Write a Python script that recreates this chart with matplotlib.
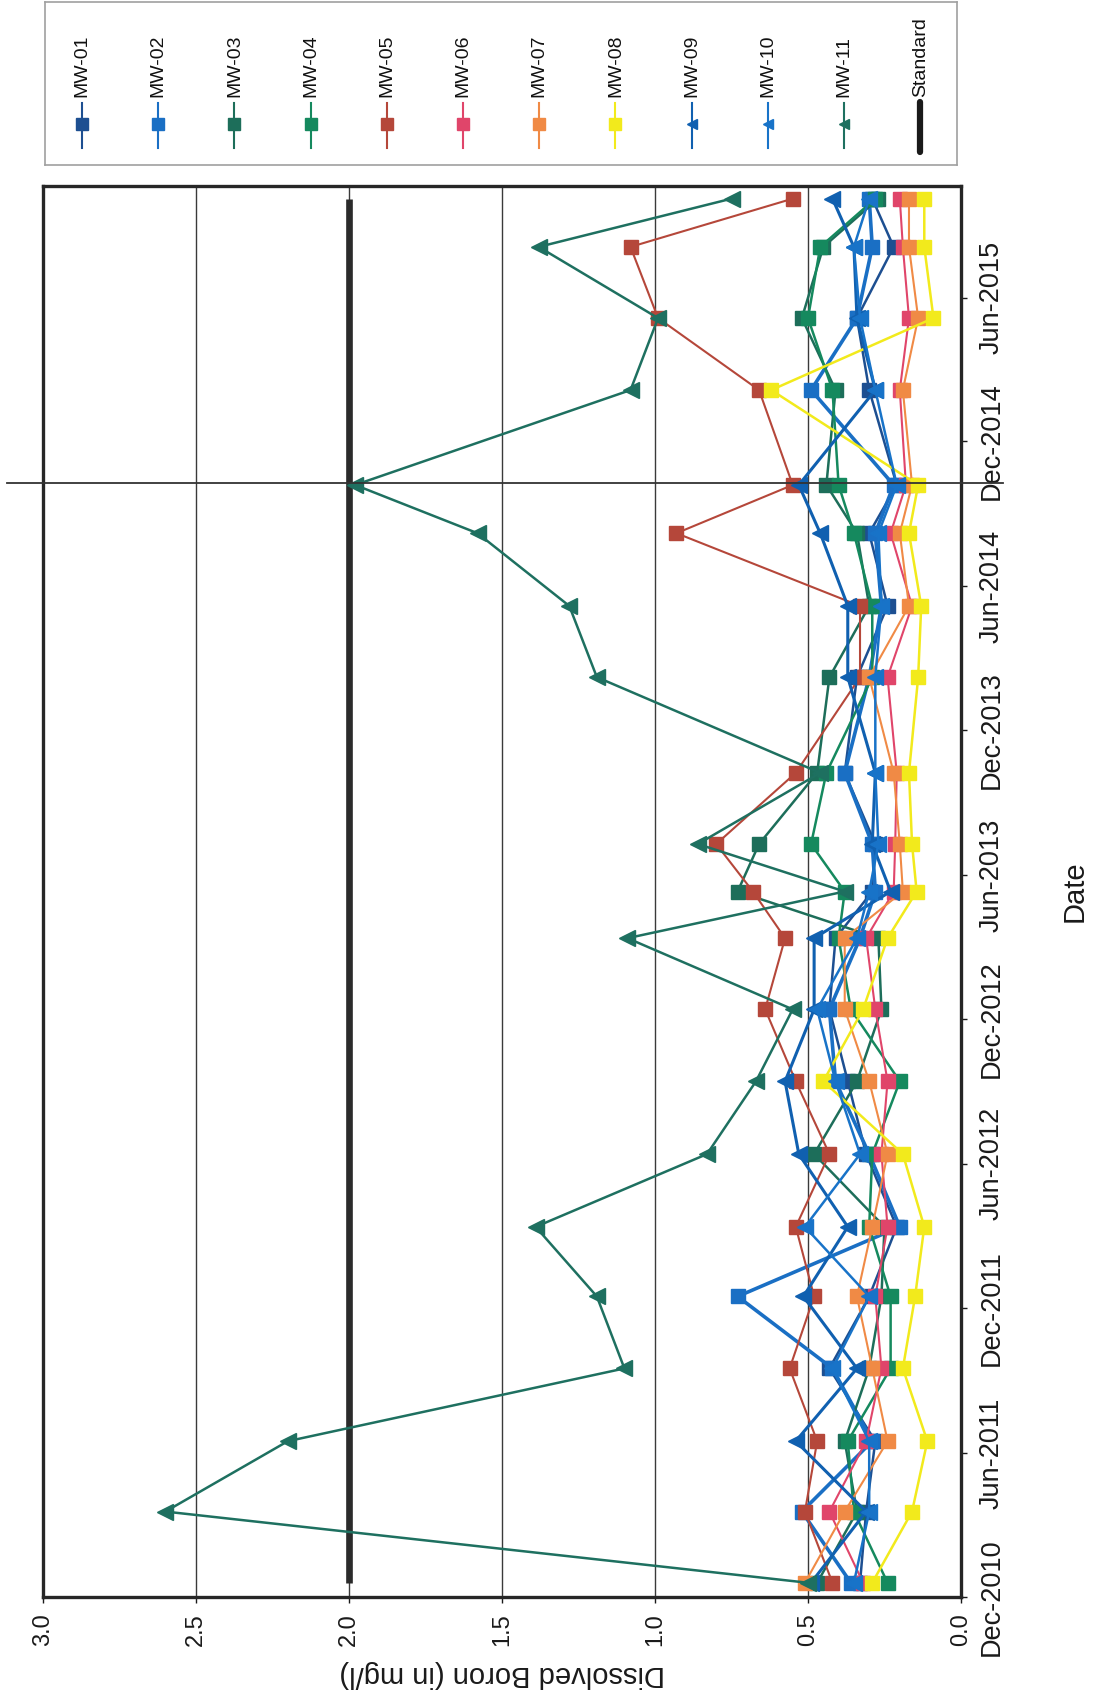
import matplotlib as mpl
import matplotlib.pyplot as plt
import matplotlib.transforms as mtransforms
import numpy as np

mpl.rcParams['font.family'] = ['Liberation Sans', 'DejaVu Sans']
NARROW = ['Liberation Sans Narrow', 'Liberation Sans', 'DejaVu Sans']

# sampling rounds (quarterly monitoring events)
sample_dates = np.array([
    '2010-12-19', '2011-03-19', '2011-06-16', '2011-09-16', '2011-12-16',
    '2012-03-13', '2012-06-13', '2012-09-13', '2012-12-13', '2013-03-13',
    '2013-05-11', '2013-07-10', '2013-10-08', '2014-02-06', '2014-05-07',
    '2014-08-07', '2014-10-07', '2015-02-04', '2015-05-06', '2015-08-04',
    '2015-10-04'], dtype='datetime64[D]')

wells = ['MW-01', 'MW-02', 'MW-03', 'MW-04', 'MW-05', 'MW-06',
         'MW-07', 'MW-08', 'MW-09', 'MW-10', 'MW-11']

# dissolved boron, mg/l
mw01 = [0.33, 0.31, 0.28, 0.43, 0.30, 0.21, 0.31, 0.37, 0.43, 0.41, 0.29,
        0.28, 0.38, 0.34, 0.24, 0.30, 0.21, 0.30, 0.34, 0.22, 0.29]
mw02 = [0.36, 0.52, 0.29, 0.42, 0.73, 0.20, 0.30, 0.41, 0.43, 0.33, 0.28,
        0.29, 0.38, 0.30, 0.26, 0.28, 0.22, 0.49, 0.34, 0.29, 0.30]
mw03 = [0.47, 0.34, 0.38, 0.30, 0.26, 0.25, 0.48, 0.34, 0.26, 0.27, 0.73,
        0.66, 0.47, 0.43, 0.30, 0.34, 0.44, 0.41, 0.52, 0.45, 0.27]
mw04 = [0.24, 0.35, 0.37, 0.23, 0.23, 0.30, 0.29, 0.20, 0.36, 0.40, 0.38,
        0.49, 0.44, 0.29, 0.29, 0.35, 0.40, 0.42, 0.50, 0.46, 0.28]
mw05 = [0.42, 0.51, 0.47, 0.56, 0.48, 0.54, 0.43, 0.54, 0.64, 0.575, 0.68,
        0.80, 0.54, 0.33, 0.33, 0.93, 0.55, 0.66, 0.99, 1.08, 0.55]
mw06 = [0.32, 0.43, 0.31, 0.26, 0.28, 0.24, 0.26, 0.24, 0.28, 0.31, 0.22,
        0.215, 0.21, 0.24, 0.16, 0.23, 0.18, 0.20, 0.17, 0.19, 0.20]
mw07 = [0.51, 0.38, 0.24, 0.29, 0.34, 0.29, 0.24, 0.30, 0.38, 0.38, 0.19,
        0.20, 0.22, 0.30, 0.17, 0.20, 0.16, 0.19, 0.14, 0.17, 0.17]
mw08 = [0.29, 0.16, 0.11, 0.19, 0.15, 0.12, 0.19, 0.45, 0.32, 0.24, 0.145,
        0.16, 0.17, 0.14, 0.13, 0.17, 0.14, 0.62, 0.09, 0.12, 0.12]
mw09 = [0.49, 0.31, 0.54, 0.34, 0.515, 0.37, 0.53, 0.575, 0.48, 0.48, 0.23,
        0.29, 0.28, 0.37, 0.37, 0.46, 0.53, 0.28, 0.34, 0.35, 0.42]
mw10 = [0.35, 0.30, 0.30, 0.42, 0.30, 0.51, 0.33, 0.41, 0.47, 0.34, 0.30,
        0.27, 0.28, 0.28, 0.26, 0.27, 0.21, 0.28, 0.33, 0.35, 0.30]
mw11 = [0.50, 2.60, 2.20, 1.10, 1.19, 1.39, 0.83, 0.67, 0.55, 1.09, 0.38,
        0.86, 0.46, 1.19, 1.28, 1.58, 1.98, 1.08, 0.99, 1.38, 0.75]
series = [mw01, mw02, mw03, mw04, mw05, mw06, mw07, mw08, mw09, mw10, mw11]

standard = 2.0
boron_ticks = [0.0, 0.5, 1.0, 1.5, 2.0, 2.5, 3.0]
date_ticks = np.arange(np.datetime64('2010-12'), np.datetime64('2015-07'),
                       np.timedelta64(6, 'M')).astype('datetime64[D]')
date_range = np.array(['2010-12-01', '2015-10-20'], dtype='datetime64[D]')
event_date = np.datetime64('2014-10-09')

colors = ['#1d4f91', '#1a6fc4', '#1d6e5a', '#15895e', '#b5473a', '#e0456a',
          '#f08a45', '#f2ea1c', '#1060b0', '#1873c8', '#1e7060']
markers = ['s'] * 8 + ['<'] * 3
widths = [1.8, 2.6, 1.8, 1.8, 1.5, 1.5, 1.5, 1.8, 2.2, 1.8, 1.8]

fig = plt.figure(figsize=(10.95, 16.98), dpi=100)
ax = fig.add_axes([43 / 1095, 101 / 1698, 918 / 1095, 1411 / 1698])

# boron runs right-to-left, dates bottom-to-top
ax.plot([standard, standard], [sample_dates[0], sample_dates[-1]],
        color='#2b2b2b', lw=4.8, solid_capstyle='butt', zorder=2)
for vals, c, m, lw in zip(series, colors, markers, widths):
    ax.plot(vals, sample_dates, color=c, lw=lw, marker=m,
            ms=10 if m == 's' else 11, mec=c, mfc=c, zorder=3)

# date marker line across the chart
trans = mtransforms.blended_transform_factory(ax.transAxes, ax.transData)
ax.plot([-0.039, 1.046], [event_date, event_date], transform=trans,
        color='#333333', lw=1.3, clip_on=False, zorder=4)

ax.set_xlim(3.0, 0.0)
ax.set_ylim(date_range[0], date_range[1])
ax.set_xticks(boron_ticks)
ax.set_xticklabels([f'{v:.1f}' for v in boron_ticks])
ax.set_yticks(date_ticks)
ax.set_yticklabels([d.astype(object).strftime('%b-%Y') for d in date_ticks])
ax.grid(axis='x', color='#3a3a3a', lw=1.0, zorder=1)
ax.set_axisbelow(True)

for sp in ax.spines.values():
    sp.set_linewidth(2.4)
    sp.set_color('#262626')

ax.yaxis.tick_right()
ax.yaxis.set_label_position('right')
ax.tick_params(axis='x', direction='out', length=4, width=1, pad=8,
               labelsize=17, labelrotation=90, colors='#1a1a1a')
ax.tick_params(axis='y', direction='out', length=4, width=1, pad=9,
               colors='#1a1a1a')
for lab in ax.get_yticklabels():
    lab.set_rotation(90)
    lab.set_va('center')
    lab.set_family(NARROW)
    lab.set_fontsize(19.5)

ax.set_xlabel('Dissolved Boron (in mg/l)', fontsize=21, rotation=180,
              labelpad=10, color='#1a1a1a')
ax.set_ylabel('Date', fontsize=21, rotation=90, labelpad=40, color='#1a1a1a')

# legend panel: vertical swatches with rotated names
lax = fig.add_axes([45 / 1095, 1 - 165 / 1698, 912 / 1095, 163 / 1698])
lax.set_xlim(0, 912)
lax.set_ylim(163, 0)
lax.set_xticks([])
lax.set_yticks([])
for sp in lax.spines.values():
    sp.set_linewidth(1.2)
    sp.set_color('#a0a0a0')

names = wells + ['Standard']
for i, name in enumerate(names):
    x = 37 + 76.2 * i
    if name == 'Standard':
        lax.plot([x, x], [100, 150], color='#1a1a1a', lw=4.5,
                 solid_capstyle='round')
    else:
        c = colors[i]
        lax.plot([x, x], [101, 146], color=c, lw=1.5)
        lax.plot([x], [122], marker=markers[i], color=c, mec=c,
                 ms=8 if markers[i] == 's' else 7)
    lax.text(x, 95, name, rotation=90, ha='center', va='bottom',
             fontsize=14, family=NARROW, color='#111111')

fig.savefig('out.png', dpi=100)
